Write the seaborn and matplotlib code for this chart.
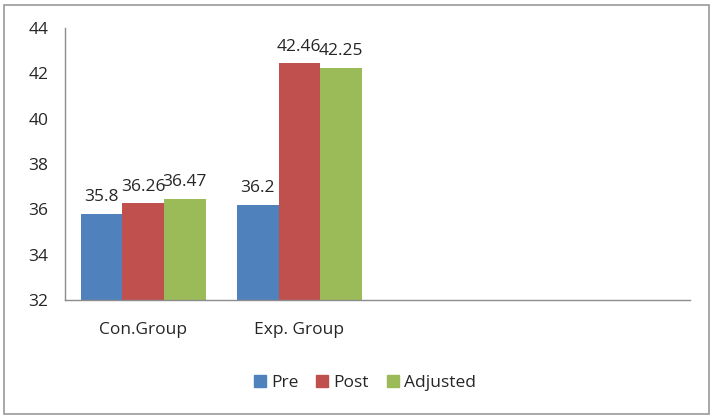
import pandas as pd
import matplotlib
matplotlib.use("Agg")
import matplotlib.pyplot as plt
import seaborn as sns
from matplotlib.patches import Rectangle

# data
groups = ["Con.Group", "Exp. Group"]
pre = [35.8, 36.2]
post = [36.26, 42.46]
adjusted = [36.47, 42.25]
series = ["Pre", "Post", "Adjusted"]
colors = ["#4F81BD", "#C0504D", "#9BBB59"]

df = pd.DataFrame({
    "group": groups * 3,
    "series": [s for s in series for _ in groups],
    "value": pre + post + adjusted,
})

sns.set_style("white")
plt.rcParams["font.family"] = ["Open Sans", "DejaVu Sans"]

fig = plt.figure(figsize=(7.13, 4.2), dpi=100)
ax = fig.add_axes([0.091, 0.286, 0.877, 0.647])

sns.barplot(data=df, x="group", y="value", hue="series", order=groups,
            hue_order=series, palette=colors, width=0.8, ax=ax, saturation=1,
            linewidth=0)

for cont in ax.containers:
    ax.bar_label(cont, fmt="%g", padding=6, fontsize=12.5)

# bars grow from the axis floor at 32
for p in ax.patches:
    h = p.get_height()
    if h > 0:
        p.set_y(32)
        p.set_height(h - 32)

ax.set_ylim(32, 44)
ax.set_yticks(range(32, 45, 2))
ax.set_xlim(-0.5, 3.5)
ax.set_xlabel("")
ax.set_ylabel("")
ax.tick_params(axis="both", length=0, labelsize=12.5)
ax.tick_params(axis="x", pad=16)
ax.tick_params(axis="y", pad=12)
for s in ["top", "right"]:
    ax.spines[s].set_visible(False)
for s in ["left", "bottom"]:
    ax.spines[s].set_color("#8c8c8c")
    ax.spines[s].set_linewidth(1)

ax.legend_.remove()
handles = [Rectangle((0, 0), 1, 1, color=c) for c in colors]
fig.legend(handles, series, loc="center", bbox_to_anchor=(0.512, 0.088),
           ncol=3, frameon=False, fontsize=12.5, handlelength=0.7,
           handleheight=0.7, handletextpad=0.3, columnspacing=1.0)

fig.patches.append(Rectangle((0.006, 0.014), 0.988, 0.974, transform=fig.transFigure,
                             fill=False, edgecolor="#9a9a9a", linewidth=1.2))

fig.savefig("out.png", dpi=100)
